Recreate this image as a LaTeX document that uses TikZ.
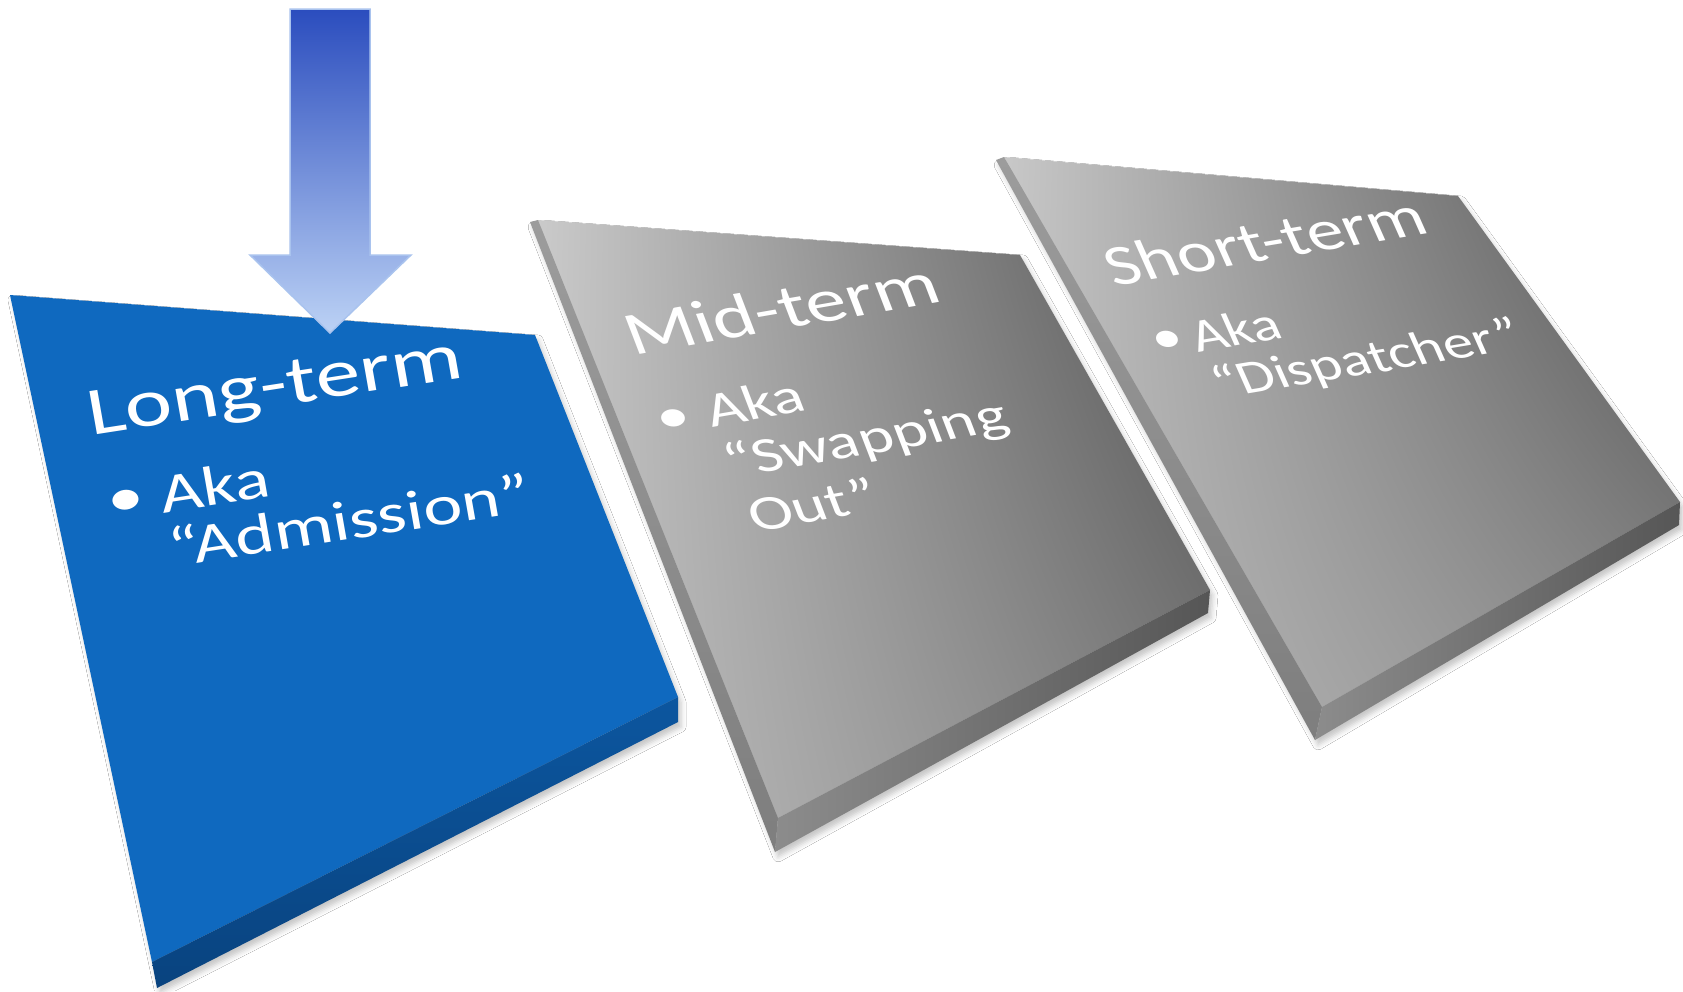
\documentclass[tikz,border=0pt]{standalone}
\usepackage{fontspec}
\setmainfont{Carlito}
\usetikzlibrary{shadows.blur,shadings}
\definecolor{bluetop}{HTML}{0F69BF}
\definecolor{bluefaceA}{HTML}{0C569F}
\definecolor{bluefaceB}{HTML}{09437F}
\definecolor{arrowtop}{HTML}{2B4DBE}
\definecolor{arrowbot}{HTML}{BCD2F5}
\definecolor{arrowline}{HTML}{A9C3EE}
\definecolor{mUL}{HTML}{CACACA}
\definecolor{mUR}{HTML}{525252}
\definecolor{mLL}{HTML}{C4C4C4}
\definecolor{mLR}{HTML}{7E7E7E}
\definecolor{sUL}{HTML}{C8C8C8}
\definecolor{sUR}{HTML}{505050}
\definecolor{sLL}{HTML}{C0C0C0}
\definecolor{sLR}{HTML}{8A8A8A}
\definecolor{faceLtop}{HTML}{9C9C9C}
\definecolor{faceLbot}{HTML}{7E7E7E}
\definecolor{faceBl}{HTML}{8C8C8C}
\definecolor{faceBr}{HTML}{565656}
\newcommand{\paneltext}[4]{%
  \begin{scope}[shift={#3}]
    \node[#1] (#2) at (0,0) {#4};
  \end{scope}}
\tikzset{
  ptxt/.style={transform shape, anchor=base west, inner sep=0pt, outer sep=0pt, text=white},
  pbul/.style={transform shape, anchor=center, inner sep=0pt, outer sep=0pt, text=white},
  bcm/.style={cm={1.3045,0.2020,-0.1736,0.9848,(0,0)}},
  mcm/.style={cm={1.2712,0.2196,-0.3584,0.9336,(0,0)}},
  scm/.style={cm={1.1836,0.1980,-0.4067,0.9135,(0,0)}},
  bT/.style={ptxt, bcm, font=\fontsize{68}{68}\selectfont},
  bB/.style={ptxt, bcm, font=\fontsize{56}{56}\selectfont},
  bBul/.style={pbul, bcm, font=\fontsize{56}{56}\selectfont},
  mT/.style={ptxt, mcm, font=\fontsize{63}{63}\selectfont},
  mB/.style={ptxt, mcm, font=\fontsize{51}{51}\selectfont},
  mBul/.style={pbul, mcm, font=\fontsize{51}{51}\selectfont},
  sT/.style={ptxt, scm, font=\fontsize{60.5}{60.5}\selectfont},
  sB/.style={ptxt, scm, font=\fontsize{49.5}{49.5}\selectfont},
  sBul/.style={pbul, scm, font=\fontsize{49.5}{49.5}\selectfont},
  panelshadow/.style={blur shadow={shadow xshift=3pt, shadow yshift=-5pt, shadow blur radius=5pt, shadow opacity=22}},
}
\begin{document}
\begin{tikzpicture}[x=1pt,y=-1pt]
\useasboundingbox (0,0) rectangle (1683,991);
\fill[white] (0,0) rectangle (1683,991);

% ---------- corner coordinates ----------
\coordinate (bTL) at (10,295);  \coordinate (bTR) at (535,335);
\coordinate (bBR) at (678,697); \coordinate (bBL) at (152,962);
\coordinate (bBRd) at (678,722); \coordinate (bBLd) at (157,988);

\coordinate (mTLo) at (530,222); \coordinate (mTL) at (538,220);
\coordinate (mTR) at (1020,255); \coordinate (mBR) at (1210,590);
\coordinate (mBRd) at (1208,613); \coordinate (mBL) at (778,818);
\coordinate (mBLd) at (775,852);

\coordinate (sTLo) at (996,160); \coordinate (sTL) at (1004,157);
\coordinate (sTR) at (1458,196); \coordinate (sBR) at (1680,502);
\coordinate (sBRd) at (1679,525); \coordinate (sBL) at (1322,707);
\coordinate (sBLd) at (1315,740);

% ---------- Long-term (blue) panel ----------
\path[panelshadow] (bTL) -- (bTR) -- (bBR) -- (bBRd) -- (bBLd) -- cycle;
\fill[bluetop] (bTL) -- (bTR) -- (bBR) -- (bBL) -- cycle;
\shade[top color=bluefaceA, bottom color=bluefaceB] (bBL) -- (bBR) -- (bBRd) -- (bBLd) -- cycle;

% ---------- Mid-term panel ----------
\path[panelshadow] (mTLo) -- (mTL) -- (mTR) -- (mBR) -- (mBRd) -- (mBLd) -- cycle;
\shade[upper left=mUL, upper right=mUR, lower left=mLL, lower right=mLR] (mTL) -- (mTR) -- (mBR) -- (mBL) -- cycle;
\shade[top color=faceLtop, bottom color=faceLbot] (mTLo) -- (mTL) -- (mBL) -- (mBLd) -- cycle;
\shade[left color=faceBl, right color=faceBr] (mBL) -- (mBR) -- (mBRd) -- (mBLd) -- cycle;

% ---------- Short-term panel ----------
\path[panelshadow] (sTLo) -- (sTL) -- (sTR) -- (sBR) -- (sBRd) -- (sBLd) -- cycle;
\shade[upper left=sUL, upper right=sUR, lower left=sLL, lower right=sLR] (sTL) -- (sTR) -- (sBR) -- (sBL) -- cycle;
\shade[top color=faceLtop, bottom color=faceLbot] (sTLo) -- (sTL) -- (sBL) -- (sBLd) -- cycle;
\shade[left color=faceBl, right color=faceBr] (sBL) -- (sBR) -- (sBRd) -- (sBLd) -- cycle;

% ---------- texts ----------
\paneltext{bT}{lt}{(91,435)}{Long-term}
\paneltext{bBul}{lbul}{(126,503)}{•}
\paneltext{bB}{laka}{(163,513)}{Aka}
\paneltext{bB}{ladm}{(172,567)}{“Admission”}

\paneltext{mT}{mt}{(633,355)}{Mid-term}
\paneltext{mBul}{mbul}{(674,421)}{•}
\paneltext{mB}{maka}{(712,427)}{Aka}
\paneltext{mB}{mswap}{(731,478)}{“Swapping}
\paneltext{mB}{mout}{(755,532)}{Out”}

\paneltext{sT}{st}{(1114,286)}{Short-term}
\paneltext{sBul}{sbul}{(1168,342)}{•}
\paneltext{sB}{saka}{(1198,352)}{Aka}
\paneltext{sB}{sdisp}{(1220,399)}{“Dispatcher”}

% ---------- admission arrow ----------
\shade[top color=arrowtop, bottom color=arrowbot, draw=arrowline, line width=1.5pt, line join=miter]
  (290,9) -- (370,9) -- (370,255) -- (411,255) -- (330,333) -- (250,255) -- (290,255) -- cycle;
\end{tikzpicture}
\end{document}
